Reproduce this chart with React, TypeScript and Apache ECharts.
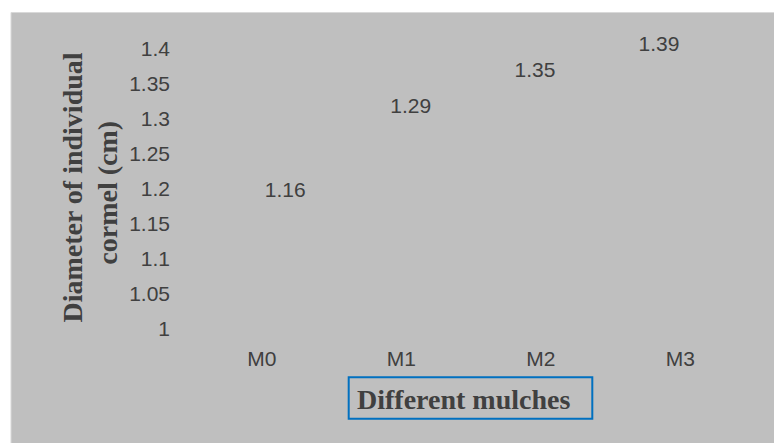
import React, { useEffect, useRef } from "react";
import * as echarts from "echarts";

const mulches = ["M0", "M1", "M2", "M3"];
const cormelDiameter = [1.16, 1.29, 1.35, 1.39];
const yMin = 1;
const yMax = 1.4;
const yStep = 0.05;

const TEXT = "#404040";
const PANEL = "#bfbfbf";

export default function App() {
  const ref = useRef<HTMLDivElement>(null);

  useEffect(() => {
    if (!ref.current) return;
    const chart = echarts.init(ref.current, undefined, { renderer: "svg" });

    // hand-placed nudges for the value labels, as in the original layout
    const labelNudge: [number, number][] = [
      [23.4, -16.8],
      [9.5, -9],
      [-5.8, -3.5],
      [-21.3, -1.5],
    ];

    chart.setOption({
      animation: false,
      backgroundColor: "#ffffff",
      graphic: [
        {
          type: "rect",
          z: -10,
          silent: true,
          shape: { x: 11, y: 12.5, width: 770, height: 440 },
          style: { fill: PANEL, stroke: "#d9d9d9", lineWidth: 1 },
        },
        {
          type: "text",
          x: 72.2,
          y: 187.5,
          rotation: Math.PI / 2,
          style: {
            text: "Diameter of individual",
            fill: TEXT,
            font: "bold 28px 'Liberation Serif', 'Times New Roman', serif",
            align: "center",
            verticalAlign: "middle",
          },
        },
        {
          type: "text",
          x: 107.2,
          y: 192.8,
          rotation: Math.PI / 2,
          style: {
            text: "cormel (cm)",
            fill: TEXT,
            font: "bold 28px 'Liberation Serif', 'Times New Roman', serif",
            align: "center",
            verticalAlign: "middle",
          },
        },
        {
          type: "rect",
          shape: { x: 348.7, y: 377.3, width: 243.6, height: 41.4 },
          style: { fill: "none", stroke: "#0070c0", lineWidth: 2 },
        },
        {
          type: "text",
          x: 463.7,
          y: 399.8,
          style: {
            text: "Different mulches",
            fill: TEXT,
            font: "bold 28px 'Liberation Serif', 'Times New Roman', serif",
            align: "center",
            verticalAlign: "middle",
          },
        },
      ],
      grid: { left: 192, right: 24, top: 48.3, bottom: 114.7, containLabel: false },
      xAxis: {
        type: "category",
        data: mulches,
        axisLine: { show: false },
        axisTick: { show: false },
        axisLabel: {
          color: TEXT,
          fontSize: 21,
          fontFamily: "'Liberation Sans', Arial, sans-serif",
          margin: 20,
        },
      },
      yAxis: {
        type: "value",
        min: yMin,
        max: yMax,
        interval: yStep,
        axisLine: { show: false },
        axisTick: { show: false },
        splitLine: { show: false },
        axisLabel: {
          color: TEXT,
          fontSize: 21,
          fontFamily: "'Liberation Sans', Arial, sans-serif",
          margin: 22,
        },
      },
      series: [
        {
          type: "bar",
          barWidth: "55%",
          data: cormelDiameter.map((v, i) => ({
            value: v,
            label: { offset: labelNudge[i] },
          })),
          itemStyle: { color: "rgba(0,0,0,0)" },
          label: {
            show: true,
            position: "top",
            distance: 0,
            color: TEXT,
            fontSize: 21,
            fontFamily: "'Liberation Sans', Arial, sans-serif",
          },
        },
      ],
    });

    return () => chart.dispose();
  }, []);

  return (
    <div
      ref={ref}
      style={{ position: "absolute", left: 0, top: 0, width: 774, height: 443 }}
    />
  );
}
